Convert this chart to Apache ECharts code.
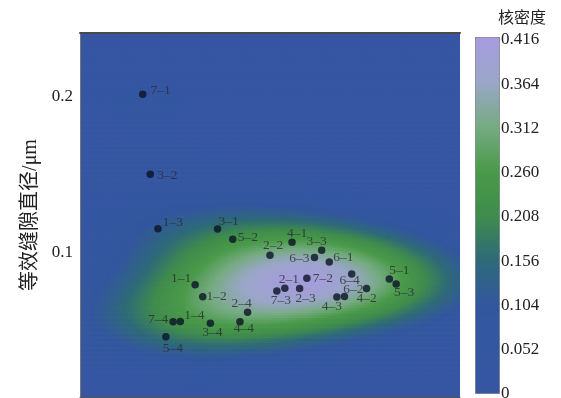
<!DOCTYPE html>
<html><head><meta charset="utf-8">
<script src="https://cdn.jsdelivr.net/npm/echarts@6/dist/echarts.min.js"></script>
<style>html,body{margin:0;padding:0;background:#fff}#c{width:561px;height:398px}</style>
</head><body><div id="c"></div>
<script>
// ---- data ----
const sampleNames = ['7–1','3–2','1–3','3–1','5–2','2–2','1–1','1–2','2–4','4–4','3–4','1–4','7–4','5–4',
                     '4–1','3–3','6–3','6–1','7–2','2–1','7–3','2–3','6–4','6–2','4–2','4–3','5–1','5–3'];
// x: abscissa (axis unlabelled in the source, arbitrary units 0–100)
const sampleX = [16.5,18.5,20.5,36.2,40.2,50.0,30.3,32.3,44.1,42.1,34.3,26.4,24.5,22.6,
                 55.8,63.6,61.7,65.6,59.7,53.9,51.8,57.8,71.5,69.6,75.4,67.6,81.4,83.2];
// y: equivalent gap diameter (μm)
const sampleY = [0.2014,0.1501,0.1153,0.1151,0.1085,0.0982,0.0794,0.0717,0.0617,0.0556,0.0547,0.0558,0.0556,0.0460,
                 0.1066,0.1015,0.0968,0.0940,0.0835,0.0771,0.0753,0.0769,0.0863,0.0718,0.0769,0.0715,0.0831,0.0799];
const yTicks = [0.1, 0.2];
const densityTicks = [0, 0.052, 0.104, 0.156, 0.208, 0.260, 0.312, 0.364, 0.416];
const densityPeak = 0.405; // highest kernel density shown in the picture

// ---- layout / style (not data) ----
const X_MIN = 0, X_MAX = 100, Y_MIN = 0.0074, Y_MAX = 0.2407;
const labelOffset = {
 '7–1':[18,-4],'3–2':[17,1],'1–3':[15,-6],'3–1':[11,-8],'5–2':[15,-2],'2–2':[3,-10],'1–1':[-14,-6],
 '1–2':[14,0],'2–4':[-6,-9],'4–4':[4,7],'3–4':[2,9],'1–4':[14,-6],'7–4':[-15,-2],'5–4':[7,12],
 '4–1':[5,-9],'3–3':[-5,-9],'6–3':[-15,1],'6–1':[14,-4],'7–2':[16,0],'2–1':[4,-9],'7–3':[4,9],
 '2–3':[6,10],'6–4':[-2,7],'6–2':[9,-7],'4–2':[0,10],'4–3':[-5,9],'5–1':[10,-8],'5–3':[8,9]
};
const FONT = "'Liberation Serif','Times New Roman','Noto Sans CJK SC',serif";

// ---- kernel density estimate of the samples on a grid ----
const NX = 152, NY = 146;
const DX = (X_MAX - X_MIN) / NX, DY = (Y_MAX - Y_MIN) / NY;
const HX = 23, HY = 0.0205; // kernel bandwidths
const raw = [];
let maxD = 0;
for (let j = 0; j < NY; j++) {
  const y = Y_MIN + (j + 0.5) * DY;
  for (let i = 0; i < NX; i++) {
    const x = X_MIN + (i + 0.5) * DX;
    let s = 0;
    for (let k = 0; k < sampleX.length; k++) {
      const u = (x - sampleX[k]) / HX, v = (y - sampleY[k]) / HY;
      s += Math.exp(-0.5 * (u * u + v * v));
    }
    raw.push([x, y, s]);
    if (s > maxD) maxD = s;
  }
}
const heat = raw.map(d => [d[0], d[1], d[2] / maxD * densityPeak]);

const points = sampleNames.map((n, i) => ({
  value: [sampleX[i], sampleY[i]], name: n,
  label: { offset: labelOffset[n] }
}));

const chart = echarts.init(document.getElementById('c'), null, {renderer: 'canvas'});
chart.setOption({
  animation: false,
  backgroundColor: '#fff',
  title: { text: '核密度', left: 493, top: 6, textStyle: { fontFamily: FONT, fontSize: 16, fontWeight: 'normal', color: '#222' } },
  grid: [
    { left: 80, right: 101, top: 33, bottom: 1, outerBoundsMode: 'none' },
    { left: 475, width: 24, top: 40, bottom: 4, outerBoundsMode: 'none' }
  ],
  xAxis: [
    { type: 'value', gridIndex: 0, min: X_MIN, max: X_MAX, z: 5,
      axisLine: { show: true, lineStyle: { color: '#555', width: 1 } },
      axisTick: { show: false }, axisLabel: { show: false }, splitLine: { show: false } },
    { type: 'value', gridIndex: 0, position: 'top', min: X_MIN, max: X_MAX, z: 5,
      axisLine: { show: true, lineStyle: { color: '#4a4a4a', width: 2 } },
      axisTick: { show: false }, axisLabel: { show: false }, splitLine: { show: false } },
    { type: 'value', gridIndex: 1, show: false, min: 0, max: 1 }
  ],
  yAxis: [
    { type: 'value', gridIndex: 0, min: Y_MIN, max: Y_MAX, z: 5,
      name: '等效缝隙直径/μm', nameLocation: 'middle', nameGap: 37, nameRotate: 90,
      nameTextStyle: { fontFamily: FONT, fontSize: 20, color: '#222' },
      axisLine: { show: true, lineStyle: { color: '#555' } },
      axisTick: { show: false },
      axisLabel: { customValues: yTicks, fontFamily: FONT, fontSize: 17, color: '#222', margin: 7,
                   formatter: v => String(Math.round(v * 10) / 10) },
      splitLine: { show: false } },
    { type: 'value', gridIndex: 0, position: 'right', min: Y_MIN, max: Y_MAX, z: 5,
      axisLine: { show: true, lineStyle: { color: '#777' } },
      axisTick: { show: false }, axisLabel: { show: false }, splitLine: { show: false } },
    { type: 'value', gridIndex: 1, position: 'right', min: 0, max: 0.416, interval: 0.052,
      axisLine: { show: false }, axisTick: { show: false }, splitLine: { show: false },
      axisLabel: { customValues: densityTicks, fontFamily: FONT, fontSize: 17, color: '#222', margin: 2,
                   formatter: v => v === 0 ? '0' : v.toFixed(3) } }
  ],
  visualMap: {
    type: 'continuous', seriesIndex: 0, dimension: 2, min: 0, max: 0.416,
    left: 475, top: 37, itemWidth: 24, itemHeight: 356, padding: 0,
    calculable: false, text: null, showLabel: false,
    borderColor: '#777', borderWidth: 1,
    inRange: { color: ['#3656a3','#3557a2','#33579e','#2e6a78','#3f8c4c','#4a9a4a','#76ab82','#9aa6c8','#a79be0'] }
  },
  series: [
    { type: 'custom', xAxisIndex: 0, yAxisIndex: 0, data: heat, progressive: 0, clip: true, z: 1,
      renderItem: function (params, api) {
        const p = api.coord([api.value(0) - DX / 2, api.value(1) + DY / 2]);
        const s = api.size([DX, DY]);
        return { type: 'rect', shape: { x: p[0], y: p[1], width: s[0] + 0.7, height: s[1] + 0.7 },
                 style: { fill: api.visual('color') } };
      } },
    { type: 'scatter', xAxisIndex: 0, yAxisIndex: 0, data: points, symbolSize: 7.5, z: 4,
      itemStyle: { color: '#0b1326' },
      label: { show: true, position: 'inside', formatter: p => p.name,
               fontFamily: FONT, fontSize: 13.5, color: '#2c2c2c' } }
  ]
});
</script></body></html>
